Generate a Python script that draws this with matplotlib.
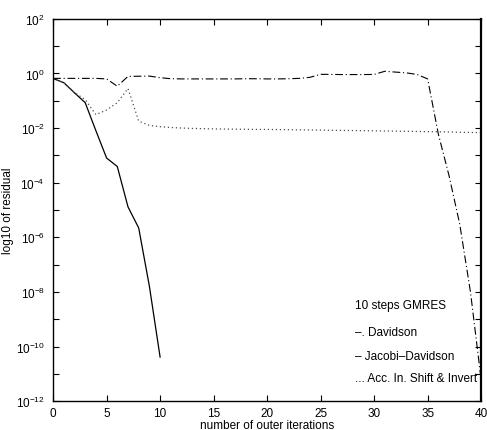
import numpy as np
import matplotlib
matplotlib.use("Agg")
import matplotlib.pyplot as plt

plt.rcParams['font.family'] = ['Liberation Sans', 'DejaVu Sans']
plt.rcParams['mathtext.default'] = 'regular'

# residuals
it_jd = list(range(0, 11))
res_jd = [0.65, 0.46, 0.195, 0.085, 8e-3, 8e-4, 3.9e-4, 1.3e-5, 2.2e-6, 1.6e-8, 4.1e-11]

it_all = list(range(0, 41))
res_dav = [0.66, 0.66, 0.66, 0.66, 0.66, 0.63, 0.34, 0.78, 0.79, 0.8,
           0.7, 0.64, 0.63, 0.63, 0.63, 0.63, 0.63, 0.63, 0.64, 0.64,
           0.63, 0.63, 0.64, 0.66, 0.72, 0.93, 0.92, 0.91, 0.91, 0.91,
           0.92, 1.2, 1.12, 1.05, 0.92, 0.63, 6e-3, 1.8e-4, 3e-6, 1e-8,
           6e-12]
res_acc = [0.65, 0.46, 0.2, 0.11, 0.031, 0.046, 0.085, 0.28, 0.018, 0.0125,
           0.0112, 0.0105, 0.0100, 0.0097, 0.0095, 0.0093, 0.0092, 0.0091, 0.0090, 0.0089,
           0.0089, 0.0088, 0.0087, 0.0086, 0.0085, 0.0084, 0.0083, 0.0082, 0.0081, 0.0080,
           0.0079, 0.0078, 0.0077, 0.0076, 0.0075, 0.0074, 0.0073, 0.0072, 0.0070, 0.0069,
           0.0068]

legend_lines = ["10 steps GMRES", "\u2013. Davidson", "\u2013 Jacobi\u2013Davidson",
                "... Acc. In. Shift & Invert"]

fig = plt.figure(figsize=(4.87, 4.31), dpi=100)
ax = fig.add_axes([0.109, 0.067, 0.879, 0.887])

ax.plot(it_all, res_dav, color='k', lw=0.8, linestyle=(0, (7, 2.5, 1, 2.5)))
ax.plot(it_jd, res_jd, color='k', lw=0.9)
ax.plot(it_all, res_acc, color='0.3', lw=0.9, linestyle=(0, (1, 2.2)))

ax.set_yscale('log')
ax.set_xlim(0, 40)
ax.set_ylim(1e-12, 1e2)
ax.set_xticks(np.arange(0, 41, 5))
exps = np.arange(-12, 3)
ax.set_yticks([10.0 ** e for e in exps])
ax.set_yticklabels(['$10^{%d}$' % e if e % 2 == 0 else '' for e in exps])
ax.minorticks_off()
ax.tick_params(direction='in', top=True, right=True, length=4, width=0.8,
               labelsize=8.5)
ax.tick_params(axis='y', pad=6)
ax.tick_params(axis='x', pad=4)
for s in ax.spines.values():
    s.set_linewidth(1.0)
ax.spines['right'].set_linewidth(1.6)

ax.set_xlabel("number of outer iterations", fontsize=8.5, labelpad=0)
ax.set_ylabel("log10 of residual", fontsize=8.5, labelpad=1)

y_text = [10 ** -8.47, 10 ** -9.47, 10 ** -10.33, 10 ** -11.15]
for t, yv in zip(legend_lines, y_text):
    ax.text(28.2, yv, t, fontsize=8.5, va='center', ha='left')

fig.savefig("out.png", dpi=100)
